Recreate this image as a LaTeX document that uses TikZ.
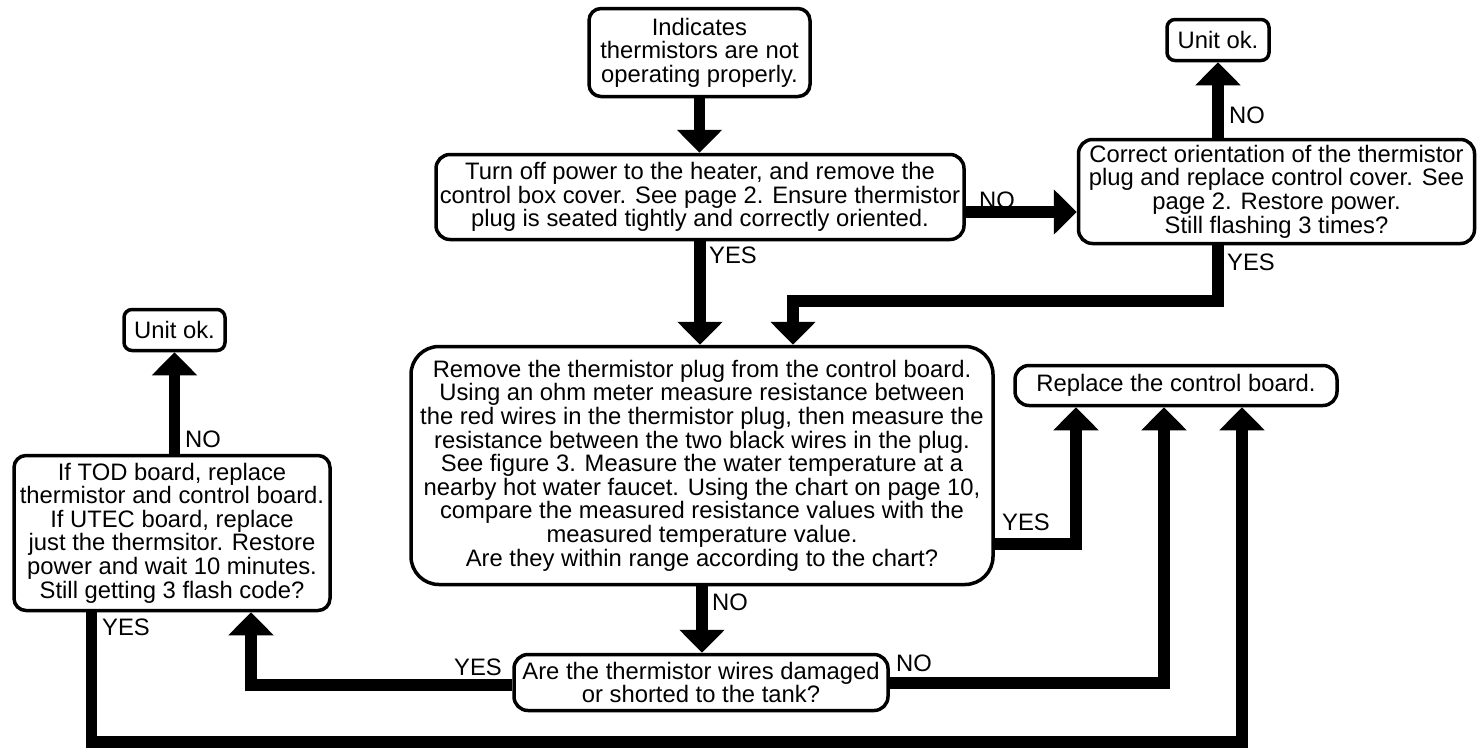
\documentclass[tikz,border=0pt]{standalone}
\usepackage{fontspec}
\setmainfont{Liberation Sans}
\usetikzlibrary{arrows.meta}
\begin{document}
\begin{tikzpicture}[x=1pt,y=-1pt,
  box/.style={draw, line width=3.5pt, rounded corners=#1, align=center, inner sep=0pt,
    font=\fontsize{23.8}{23.6}\selectfont},
  box/.default=12pt,
  lbl/.style={anchor=west, inner sep=0pt, font=\fontsize{23.8}{23.6}\selectfont},
  arr/.style={line width=11.5pt, -{Triangle[width=44pt,length=23pt]}}]
\useasboundingbox (0,0) rectangle (1477,748);

\node[box=12pt, minimum width=221pt, minimum height=88pt] (A) at (699.5,52.5)
  {Indicates\\thermistors are not\\operating properly.};
\node[box=14pt, minimum width=528pt, minimum height=85pt] (B) at (700,197)
  {Turn off power to the heater, and remove the\\control box cover. See page 2. Ensure thermistor\\plug is seated tightly and correctly oriented.};
\node[box=14pt, minimum width=396pt, minimum height=104pt] (E) at (1276.5,191.5)
  {Correct orientation of the thermistor\\plug and replace control cover. See\\page 2. Restore power.\\Still flashing 3 times?};
\node[box=8pt, minimum width=102pt, minimum height=41pt] (U1) at (1218,40) {Unit ok.};
\node[box=28pt, minimum width=582pt, minimum height=238pt] (C) at (702,465.5)
  {Remove the thermistor plug from the control board.\\Using an ohm meter measure resistance between\\the red wires in the thermistor plug, then measure the\\resistance between the two black wires in the plug.\\See figure 3. Measure the water temperature at a\\nearby hot water faucet. Using the chart on page 10,\\compare the measured resistance values with the\\measured temperature value.\\Are they within range according to the chart?};
\node[box=14pt, minimum width=322pt, minimum height=40pt] (D) at (1176,385.5)
  {Replace the control board.};
\node[box=14pt, minimum width=374pt, minimum height=56pt] (F) at (701,682.5)
  {Are the thermistor wires damaged\\or shorted to the tank?};
\node[box=12pt, minimum width=316pt, minimum height=155pt] (G) at (172,533)
  {If TOD board, replace\\thermistor and control board.\\If UTEC board, replace\\just the thermsitor. Restore\\power and wait 10 minutes.\\Still getting 3 flash code?};
\node[box=8pt, minimum width=101pt, minimum height=41pt] (U2) at (174.5,330) {Unit ok.};

\coordinate (eb) at (793,301);
\coordinate (cy) at (1076,544);
\coordinate (fy) at (1164,683);
\coordinate (gy) at (251,685);
\coordinate (b1) at (91.5,742);
\coordinate (b2) at (1242,742);

\draw[arr] (A.south) -- (A.south |- B.north);
\draw[arr] (B.east |- 0,212) -- (E.west |- 0,212);
\draw[arr] (U1.south |- E.north) -- (U1.south);
\draw[arr] (U1.south |- E.south) |- (eb) -- (eb |- C.north);
\draw[arr] (B.south) -- (B.south |- C.north);
\draw[arr] (C.east |- cy) -- (cy) -- (cy |- D.south);
\draw[arr] (C.south) -- (C.south |- F.north);
\draw[arr] (F.east |- fy) -- (fy) -- (fy |- D.south);
\draw[arr] (F.west |- gy) -- (gy) -- (gy |- G.south);
\draw[arr] (U2.south |- G.north) -- (U2.south);
\draw[arr] (G.south -| b1) -- (b1) -- (b2) -- (b2 |- D.south);

\node[lbl] (l1) at (709,255) {YES};
\node[lbl] (l2) at (979,200) {NO};
\node[lbl] (l3) at (1229,115) {NO};
\node[lbl] (l4) at (1227,262) {YES};
\node[lbl] (l5) at (1002,522) {YES};
\node[lbl] (l6) at (712,602) {NO};
\node[lbl] (l7) at (454,667) {YES};
\node[lbl] (l8) at (896,663) {NO};
\node[lbl] (l9) at (185,439) {NO};
\node[lbl] (l10) at (102,627) {YES};
\end{tikzpicture}
\end{document}
